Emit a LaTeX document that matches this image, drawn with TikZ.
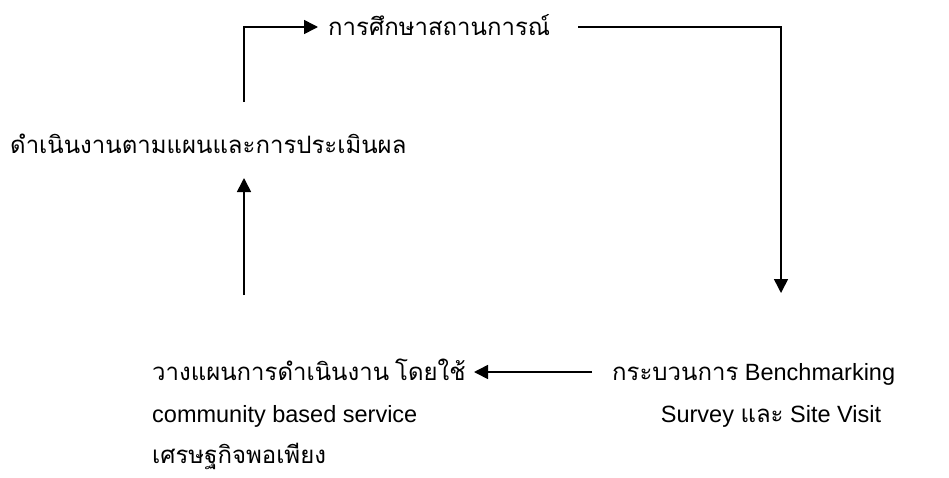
\documentclass[tikz,border=0pt]{standalone}
\usepackage{fontspec}
\setmainfont{Liberation Sans}
\newfontfamily\thai[Script=Thai,Scale=1.02]{Loma}
\usetikzlibrary{arrows.meta}
\newcommand{\T}[1]{{\thai #1}}
\tikzset{
  lbl/.style={anchor=base west, inner sep=0pt, font=\fontsize{23.5}{30}\selectfont},
  conn/.style={line width=1.6pt},
  arr/.style={conn, -{Triangle[length=14pt,width=14pt]}}
}
\begin{document}
\begin{tikzpicture}[x=1pt,y=-1pt]
\useasboundingbox (0,0) rectangle (949,477);
\node[lbl] (top) at (328,35) {\T{การศึกษาสถานการณ์}};
\node[lbl] (mid) at (10,153) {\T{ดำเนินงานตามแผนและการประเมินผล}};
\node[lbl] (bl1) at (152,380) {\T{วางแผนการดำเนินงาน\hspace{0.25em}โดยใช้}};
\node[lbl] (bl2) at (152,422) {community based service};
\node[lbl] (bl3) at (152,463) {\T{เศรษฐกิจพอเพียง}};
\node[lbl] (r1) at (612,380) {\T{กระบวนการ} Benchmarking};
\node[lbl, anchor=base] (r2) at (771,422) {Survey \T{และ} Site Visit};
\coordinate (a1) at (244,102);
\coordinate (a2) at (318,27);
\coordinate (b1) at (578,27);
\coordinate (b2) at (781,293);
\coordinate (c1) at (592,372);
\coordinate (c2) at (474,372);
\coordinate (d1) at (244,295);
\coordinate (d2) at (244,178);
\draw[arr] (a1) |- (a2);
\draw[arr] (b1) -| (b2);
\draw[arr] (c1) -- (c2);
\draw[arr] (d1) -- (d2);
\end{tikzpicture}
\end{document}
